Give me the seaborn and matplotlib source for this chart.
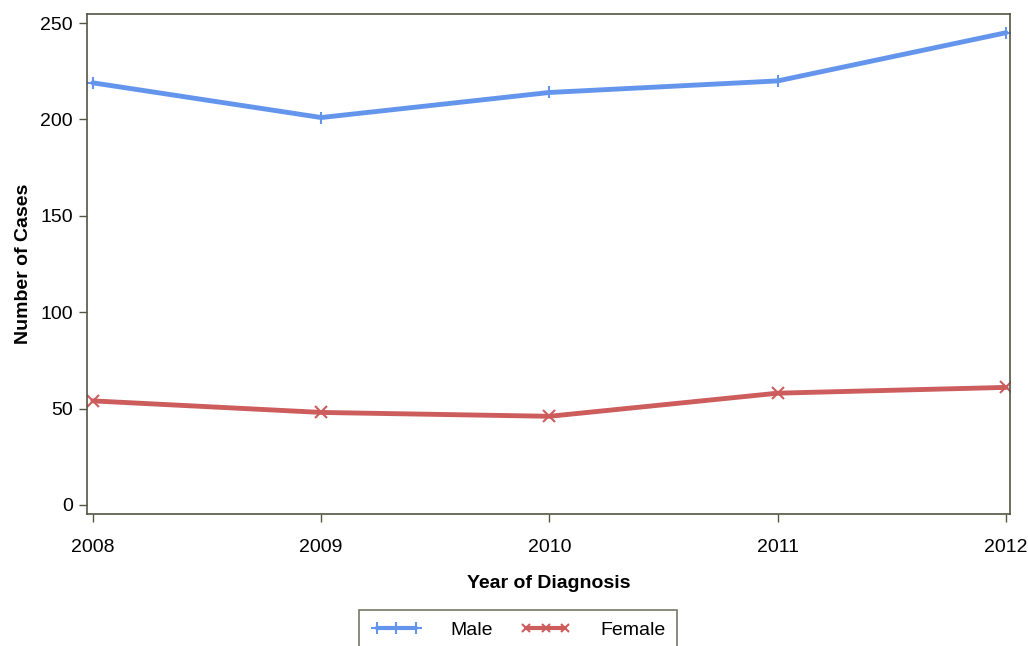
import pandas as pd
import seaborn as sns
from matplotlib import pyplot as plt
from matplotlib.lines import Line2D

years = [2008, 2009, 2010, 2011, 2012]
male = [219, 201, 214, 220, 245]
female = [54, 48, 46, 58, 61]

cores = {'Male': '#6495ED', 'Female': '#CD5C5C'}

dados = pd.DataFrame({
    'Year': years * 2,
    'Cases': male + female,
    'Sex': ['Male'] * len(years) + ['Female'] * len(years),
})

sns.set_style('ticks')
plt.rcParams['font.family'] = ['Liberation Sans', 'DejaVu Sans']
plt.rcParams['text.color'] = 'black'
plt.rcParams['axes.labelcolor'] = 'black'
plt.rcParams['xtick.color'] = 'black'
plt.rcParams['ytick.color'] = 'black'

fig = plt.figure(figsize=(10.28, 6.46), dpi=100)
ax = fig.add_axes([0.0846, 0.2043, 0.898, 0.7740])

sns.lineplot(data=dados, x='Year', y='Cases', hue='Sex', style='Sex',
             palette=cores, markers={'Male': '+', 'Female': 'x'}, dashes=False,
             linewidth=3.5, markersize=9, markeredgewidth=1.5,
             ax=ax, legend=False)

# seaborn pinta os marcadores de branco; volta para a cor da linha
for linha in ax.lines:
    linha.set_markeredgecolor(linha.get_color())

ax.set_xlim(2007.974, 2012.018)
ax.set_ylim(-4.7, 254.7)
ax.set_xticks(years)
ax.set_yticks([0, 50, 100, 150, 200, 250])
ax.tick_params(axis='both', direction='out', length=6, width=1,
               color='#555544', labelsize=14, pad=4)
ax.tick_params(axis='x', pad=12)
for s in ax.spines.values():
    s.set_visible(True)
    s.set_color('#555544')
    s.set_linewidth(1.2)

ax.set_xlabel('Year of Diagnosis', fontsize=14, fontweight='bold')
ax.set_ylabel('Number of Cases', fontsize=14, fontweight='bold')
ax.xaxis.set_label_coords(0.5, -0.122)
ax.yaxis.set_label_coords(-0.060, 0.5)

handles = [
    Line2D([], [], color=cores['Male'], lw=3, marker='+', markersize=8, markeredgewidth=1.5),
    Line2D([], [], color=cores['Female'], lw=3, marker='x', markersize=6, markeredgewidth=1.5),
]
leg = fig.legend(handles, ['Male', 'Female'], loc='upper center',
                 bbox_to_anchor=(0.504, 1 - 610 / 646), ncol=2, numpoints=3,
                 handlelength=2.6, columnspacing=1.4, handletextpad=1.5,
                 fontsize=14, frameon=True, fancybox=False,
                 borderpad=0.6, borderaxespad=0, edgecolor='#555544')
leg.get_frame().set_linewidth(1.2)

fig.savefig('out.png', dpi=100)
